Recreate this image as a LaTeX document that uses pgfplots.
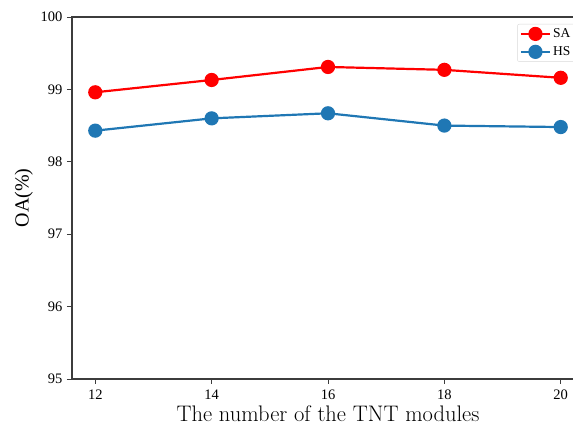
\documentclass[border=0pt]{standalone}
\usepackage{fontspec}
\usepackage{pgfplots}
\pgfplotsset{compat=1.18}
\newfontfamily\tnr{Liberation Serif}
\definecolor{c0}{RGB}{31,119,180}
\definecolor{axgray}{RGB}{60,60,60}
\begin{document}
\begin{tikzpicture}[x=1pt,y=1pt]
\begin{axis}[
  scale only axis, width=512pt, height=362pt,
  xmin=11.6, xmax=20.4, ymin=95, ymax=100,
  xtick={12,14,16,18,20}, ytick={95,96,97,98,99,100},
  tick align=outside, xtick pos=bottom, ytick pos=left,
  major tick length=5pt,
  tick style={axgray, line width=0.9pt},
  axis line style={axgray, line width=1.1pt},
  /pgf/number format/assume math mode=true,
  ticklabel style={font=\tnr\fontsize{14.5}{15}\selectfont},
  xticklabel style={yshift=-2pt},
  yticklabel style={xshift=-1pt},
  xlabel={The number of the TNT modules},
  xlabel style={font=\fontsize{22.5}{24}\selectfont, yshift=0pt},
  ylabel={OA(\%)},
  ylabel style={font=\tnr\fontsize{20}{22}\selectfont, yshift=1pt},
  legend style={at={(rel axis cs:1,1)}, anchor=north east, xshift=-9pt, yshift=-7pt,
    draw=gray!30, rounded corners=2pt, font=\tnr\fontsize{13.5}{15}\selectfont,
    row sep=3.5pt, inner sep=2.5pt},
  legend cell align=left,
  legend image code/.code={\draw[mark repeat=2,mark phase=2] plot coordinates {(0pt,0pt)(14.5pt,0pt)(29pt,0pt)};},
]
\addplot[red, line width=2.2pt, mark=*, mark size=6pt, mark options={solid}] coordinates {
  (12,98.96) (14,99.13) (16,99.31) (18,99.27) (20,99.16)};
\addlegendentry{SA}
\addplot[c0, line width=2.2pt, mark=*, mark size=6pt, mark options={solid}] coordinates {
  (12,98.43) (14,98.60) (16,98.67) (18,98.50) (20,98.48)};
\addlegendentry{HS}
\path (rel axis cs:0,0) coordinate (sw);
\path (rel axis cs:1,1) coordinate (ne);
\end{axis}
\pgfresetboundingbox
\useasboundingbox ([xshift=-72pt,yshift=-48pt]sw) rectangle ([xshift=-11pt,yshift=17pt]ne);
\end{tikzpicture}
\end{document}
